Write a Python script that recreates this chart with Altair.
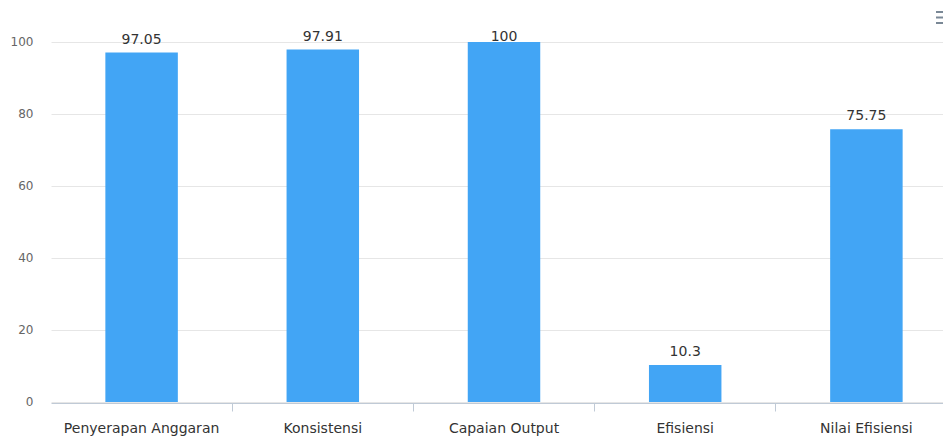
import altair as alt
import pandas as pd

categories = ["Penyerapan Anggaran", "Konsistensi", "Capaian Output", "Efisiensi", "Nilai Efisiensi"]
values = [97.05, 97.91, 100, 10.3, 75.75]
y_ticks = [0, 20, 40, 60, 80, 100]

df = pd.DataFrame({"kategori": categories, "nilai": values})

FONT = "DejaVu Sans"
PLOT_W = 906
N = len(categories)
STEP = PLOT_W / N
PAD_INNER = 0.6
BAND = STEP * (1 - PAD_INNER)
# ticks sit on the boundaries between categories; labels stay centred
TICK_POS = 1 + (PAD_INNER * STEP / 2) / BAND

x_enc = alt.X(
    "kategori:N",
    sort=categories,
    scale=alt.Scale(paddingInner=PAD_INNER, paddingOuter=PAD_INNER / 2),
    axis=alt.Axis(
        title=None,
        labelAngle=0,
        domainColor="#c0cad6",
        tickColor="#c0cad6",
        tickSize=8,
        bandPosition=TICK_POS,
        offset=1,
        labelFont=FONT,
        labelFontSize=14,
        labelColor="#333333",
        labelBaseline="alphabetic",
        labelPadding=21,
        labelOverlap=False,
        grid=False,
    ),
)

y_scale = alt.Scale(domain=[0, 100], nice=False)

bars = alt.Chart(df).mark_bar(color="#42a5f5").encode(
    x=x_enc,
    y=alt.Y(
        "nilai:Q",
        scale=y_scale,
        axis=alt.Axis(
            title=None,
            values=y_ticks,
            grid=True,
            gridColor="#e6e6e6",
            domain=False,
            ticks=False,
            labelPadding=18,
            labelColor="#666666",
            labelFont=FONT,
            labelFontSize=12,
            labelOffset=-1,
        ),
    ),
)

labels = (
    alt.Chart(df)
    .transform_calculate(label_y="min(datum.nilai, 97.9)")
    .mark_text(font=FONT, fontSize=14, color="#333333", baseline="alphabetic", dy=-9)
    .encode(
        x=alt.X("kategori:N", sort=categories),
        y=alt.Y("label_y:Q", scale=y_scale),
        text=alt.Text("nilai:Q", format=".4~r"),
    )
)

icon_src = alt.Chart(pd.DataFrame({"a": [0]}))
icon = alt.layer(
    icon_src.mark_rule(color="#7a8896", strokeWidth=2).encode(x=alt.value(885), x2=alt.value(905), y=alt.value(-30)),
    icon_src.mark_rule(color="#7a8896", strokeWidth=2).encode(x=alt.value(885), x2=alt.value(905), y=alt.value(-24.5)),
    icon_src.mark_rule(color="#7a8896", strokeWidth=2).encode(x=alt.value(885), x2=alt.value(905), y=alt.value(-19)),
)

chart = (
    alt.layer(bars, labels, icon)
    .properties(
        width=PLOT_W,
        height=360,
        autosize=alt.AutoSizeParams(type="none"),
        padding={"left": 43, "top": 34, "right": -14, "bottom": 36},
        background="white",
    )
    .configure_view(stroke=None)
)

chart.save("out.html", embed_options={"renderer": "svg", "actions": False})
